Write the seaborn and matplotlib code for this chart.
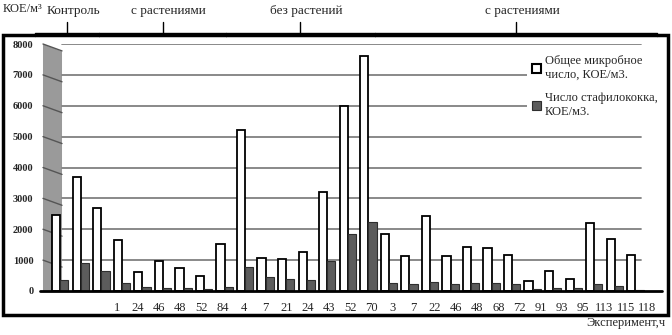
import pandas as pd
import numpy as np
import matplotlib.pyplot as plt
import matplotlib.patches as mpatches
import matplotlib.transforms as mtransforms
import seaborn as sns

# groups of the experiment and how many time points each has
groups = ["Контроль", "с растениями", "без растений", "с растениями"]
group_sizes = [3, 6, 7, 13]

# hours (x tick labels), the control has no labels
hours = ["", "", "", "1", "24", "46", "48", "52", "84",
         "4", "7", "21", "24", "43", "52", "70",
         "3", "7", "22", "46", "48", "68", "72", "91", "93", "95", "113", "115", "118"]

# total microbial count, CFU/m3
total = [2450, 3700, 2700, 1650, 600, 980, 750, 480, 1530,
         5230, 1080, 1030, 1250, 3220, 6000, 7600,
         1850, 1130, 2430, 1130, 1420, 1390, 1180, 320, 650, 400, 2200, 1670, 1150]
# staphylococcus count, CFU/m3
staph = [350, 900, 650, 250, 120, 100, 110, 80, 120,
         780, 450, 400, 350, 970, 1850, 2220,
         250, 220, 300, 220, 260, 250, 220, 80, 100, 90, 230, 150, 40]

series_names = ["Общее микробное\nчисло, КОЕ/м3.", "Число стафилококка,\nКОЕ/м3."]

n = len(hours)
df = pd.DataFrame({
    "pos": list(range(n)) * 2,
    "value": total + staph,
    "series": [series_names[0]] * n + [series_names[1]] * n,
})

sns.set_style("white")
plt.rcParams["font.family"] = ["Liberation Serif", "DejaVu Serif"]

W, H = 672, 335
xmax_data = n + 0.2
fig = plt.figure(figsize=(W / 100, H / 100), dpi=100)
ax = fig.add_axes([50 / W, 44 / H, 610 / W, 247 / H])

sns.barplot(data=df, x="pos", y="value", hue="series",
            palette=["white", "#5c5c5c"], saturation=1,
            edgecolor="black", linewidth=1.3, width=0.8,
            legend=False, ax=ax, zorder=3)
for p in ax.containers[1]:
    p.set_edgecolor("#2e2e2e")
    p.set_linewidth(0.8)

# back wall on the left
w0, w1 = -0.0115, 0.0197
ax.fill([w0, w0, w1, w1], [0, 1, 0.97, 0.0], transform=ax.transAxes,
        color="#9a9a9a", zorder=1, lw=0, clip_on=False)

yt = list(range(0, 8001, 1000))
for v in yt[1:]:
    ax.axhline(v, xmin=w1, xmax=0.969, color="#808080", lw=1.3, zorder=1.5)
    yy = v / 8000
    ax.plot([w0, w1], [yy, yy - 0.028], transform=ax.transAxes,
            color="#555555", lw=1.0, zorder=1.6, clip_on=False)

# floor front edge
ax.plot([-0.016, 1.003], [0, 0], transform=ax.transAxes, color="black",
        lw=2, clip_on=False, zorder=4)

# front plane of the 3D chart is a bit wider than the back plane
persp, shift = 1.032, -0.34
front = [i * persp + shift for i in range(n)]

ax.set_yticks(yt)
ax.set_yticklabels([str(v) for v in yt], fontsize=7.5, fontweight="bold")
ax.set_xticks(front)
ax.set_xticklabels(hours, fontsize=9)
ax.set_xticks([(i - 0.5) * persp + shift for i in range(n + 1)], minor=True)
ax.tick_params(axis="x", which="major", length=0, pad=8)
ax.tick_params(axis="x", which="minor", length=3, width=1.5, direction="inout")
ax.tick_params(axis="y", length=0, pad=12)

ax.set_ylim(0, 8000)
ax.set_xlim(-0.5, xmax_data)
ax.set_xlabel("")
ax.set_ylabel("")

for s in ["top", "right", "left", "bottom"]:
    ax.spines[s].set_visible(False)

# outer frame
fig.patches.append(mpatches.Rectangle((3 / W, (H - 315) / H), 665 / W, 280 / H,
                                      transform=fig.transFigure, fill=False,
                                      lw=2.5, edgecolor="black"))

# group brackets above the frame
trans = mtransforms.blended_transform_factory(ax.transData, ax.transAxes)
edges = [0]
for size in group_sizes:
    edges.append(edges[-1] + size)
bx = [(e - 0.5) * persp + shift - 0.35 for e in edges]
bx[-1] += 0.35
for g, x0, x1 in zip(groups, bx[:-1], bx[1:]):
    xm = (x0 + x1) / 2
    yb = 1.045
    ax.plot([x0, x0, x1, x1], [1.032, yb, yb, 1.032], transform=trans,
            color="black", lw=1, clip_on=False)
    ax.plot([xm, xm], [yb, 1.09], transform=trans, color="black", lw=1,
            clip_on=False)
    ax.text(xm + 0.3, 1.135, g, transform=trans, ha="center", va="center",
            fontsize=9.5)

fig.text(3 / W, 1 - 9 / H, "КОЕ/м³", fontsize=9, va="center", ha="left")
fig.text(665 / W, 1 - 323 / H, "Эксперимент,ч", fontsize=9, va="center",
         ha="right")

handles = [mpatches.Patch(facecolor="white", edgecolor="black", lw=1.5),
           mpatches.Patch(facecolor="#5c5c5c", edgecolor="#2e2e2e", lw=0.8)]
leg = fig.legend(handles, series_names, loc="upper left",
                 bbox_to_anchor=(521 / W, 1 - 44 / H), fontsize=9,
                 frameon=True, facecolor="white", edgecolor="none",
                 framealpha=1, handlelength=0.7, handleheight=0.7,
                 handletextpad=0.3, labelspacing=0.9, borderpad=0.4)
leg.set_zorder(10)

fig.savefig("out.png", dpi=100)
